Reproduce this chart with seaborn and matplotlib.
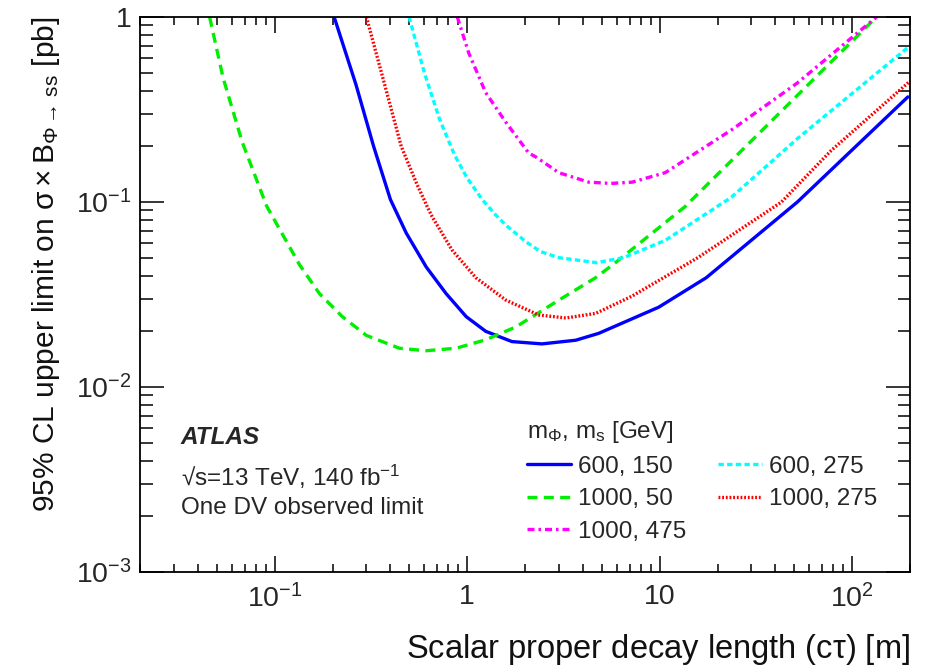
import matplotlib
matplotlib.use("Agg")
import matplotlib.pyplot as plt
import matplotlib.ticker as mticker
import seaborn as sns

# Observed 95% CL limits versus c*tau, one array pair per mass hypothesis
ctau_600_150 = [0.204, 0.265, 0.327, 0.40, 0.483, 0.614, 0.778, 0.99, 1.25, 1.71,
                2.45, 3.67, 4.83, 9.9, 17.5, 52, 195]
lim_600_150 = [1.0, 0.43, 0.20, 0.103, 0.068, 0.0445, 0.032, 0.024, 0.020, 0.0176,
               0.0171, 0.0179, 0.0195, 0.027, 0.039, 0.10, 0.37]

ctau_1000_50 = [0.046, 0.054, 0.068, 0.091, 0.135, 0.171, 0.225, 0.30, 0.445, 0.61,
                0.877, 1.25, 1.79, 3.0, 4.66, 5.9, 13.5, 43, 134]
lim_1000_50 = [1.0, 0.47, 0.21, 0.095, 0.0457, 0.032, 0.024, 0.019, 0.0162, 0.0157,
               0.0162, 0.018, 0.0211, 0.0295, 0.039, 0.047, 0.094, 0.31, 1.0]

ctau_1000_475 = [0.89, 1.02, 1.25, 1.59, 2.09, 2.28, 3.0, 4.29, 5.6, 7.2, 10.7, 23.6, 52, 134]
lim_1000_475 = [1.0, 0.64, 0.39, 0.27, 0.184, 0.175, 0.144, 0.128, 0.126, 0.128, 0.144,
                0.245, 0.44, 1.0]

ctau_600_275 = [0.50, 0.60, 0.72, 0.86, 1.0, 1.2, 1.41, 1.59, 2.02, 2.4, 3.0, 4.7, 6.5,
                10.7, 23.6, 52, 187, 200]
lim_600_275 = [1.0, 0.50, 0.28, 0.18, 0.135, 0.103, 0.085, 0.075, 0.061, 0.054, 0.050,
               0.047, 0.050, 0.062, 0.106, 0.22, 0.66, 0.70]

ctau_1000_275 = [0.30, 0.365, 0.455, 0.545, 0.625, 0.66, 0.836, 1.11, 1.59, 2.36, 3.26,
                 4.66, 7.2, 15.8, 43, 78, 200]
lim_1000_275 = [1.0, 0.47, 0.20, 0.127, 0.093, 0.083, 0.055, 0.039, 0.0295, 0.0245,
                0.0236, 0.025, 0.031, 0.050, 0.10, 0.19, 0.45]

x_tick_vals = [0.1, 1, 10, 100]
x_tick_text = ["$10^{-1}$", "1", "10", "$10^{2}$"]
y_tick_vals = [1e-3, 1e-2, 1e-1, 1]
y_tick_text = ["$10^{-3}$", "$10^{-2}$", "$10^{-1}$", "1"]

sns.set_theme(style="ticks")
plt.rcParams["font.family"] = ["Liberation Sans", "DejaVu Sans"]
plt.rcParams["mathtext.fontset"] = "custom"
plt.rcParams["mathtext.rm"] = "Liberation Sans"
plt.rcParams["mathtext.it"] = "Liberation Sans:italic"
plt.rcParams["mathtext.bf"] = "Liberation Sans:bold"
plt.rcParams["mathtext.default"] = "regular"

fig = plt.figure(figsize=(9.3, 6.67), dpi=100)
ax = fig.add_axes([140 / 930, 95 / 667, 770 / 930, 555 / 667])

series = [
    (ctau_600_150, lim_600_150, "600, 150", "#0000ff", "-"),
    (ctau_1000_50, lim_1000_50, "1000, 50", "#00ee00", (0, (3.0, 1.9))),
    (ctau_1000_475, lim_1000_475, "1000, 475", "#ff00ff", (0, (2.1, 1.2, 0.75, 1.2))),
    (ctau_600_275, lim_600_275, "600, 275", "#00ffff", (0, (1.6, 1.0))),
    (ctau_1000_275, lim_1000_275, "1000, 275", "#ff0000", (0, (0.55, 0.55))),
]
for xs, ys, lab, col, ls in series:
    sns.lineplot(x=xs, y=ys, ax=ax, color=col, lw=2.4, linestyle=ls,
                 label=lab, sort=False, estimator=None)

ax.set_xscale("log")
ax.set_yscale("log")
ax.set_xlim(0.02, 200)
ax.set_ylim(1e-3, 1)

ax.set_xticks(x_tick_vals, x_tick_text)
ax.set_yticks(y_tick_vals, y_tick_text)
ax.xaxis.set_minor_locator(mticker.LogLocator(base=10, subs=range(2, 10), numticks=20))
ax.yaxis.set_minor_locator(mticker.LogLocator(base=10, subs=range(2, 10), numticks=20))
ax.xaxis.set_minor_formatter(mticker.NullFormatter())
ax.yaxis.set_minor_formatter(mticker.NullFormatter())

ax.tick_params(axis="both", which="both", direction="in", top=True, right=True,
               color="black", width=1.1)
ax.tick_params(axis="x", which="major", length=11.5, labelsize=20.5, pad=9)
ax.tick_params(axis="x", which="minor", length=5.8)
ax.tick_params(axis="y", which="major", length=17, labelsize=20.5, pad=6)
ax.tick_params(axis="y", which="minor", length=9)
for s in ax.spines.values():
    s.set_color("black")
    s.set_linewidth(1.3)

ax.set_xlabel(r"Scalar proper decay length (c$\tau$) [m]", fontsize=23.5,
              loc="right", labelpad=13, color="#111111")
ax.set_ylabel(r"95% CL upper limit on $\sigma\times$B$_{\Phi\rightarrow\,ss}$ [pb]",
              fontsize=21.5, loc="top", labelpad=10, color="#111111")

ax.text(0.053, 0.242, "ATLAS", transform=ax.transAxes, fontsize=17.5,
        fontweight="bold", fontstyle="italic", va="center", ha="left")
ax.text(0.053, 0.172, "√s=13 TeV, 140 fb$^{-1}$", transform=ax.transAxes,
        fontsize=17.5, va="center", ha="left")
ax.text(0.053, 0.115, "One DV observed limit", transform=ax.transAxes,
        fontsize=17.5, va="center", ha="left")

leg = ax.legend(ncol=2, title=r"m$_{\Phi}$, m$_{s}$ [GeV]", frameon=False,
                loc="upper left", bbox_to_anchor=(0.503, 0.276), borderpad=0,
                borderaxespad=0, fontsize=17.5, title_fontsize=17.5,
                handlelength=1.8, handletextpad=0.3, columnspacing=1.3,
                labelspacing=0.44, alignment="left")

fig.savefig("out.png", dpi=100)
